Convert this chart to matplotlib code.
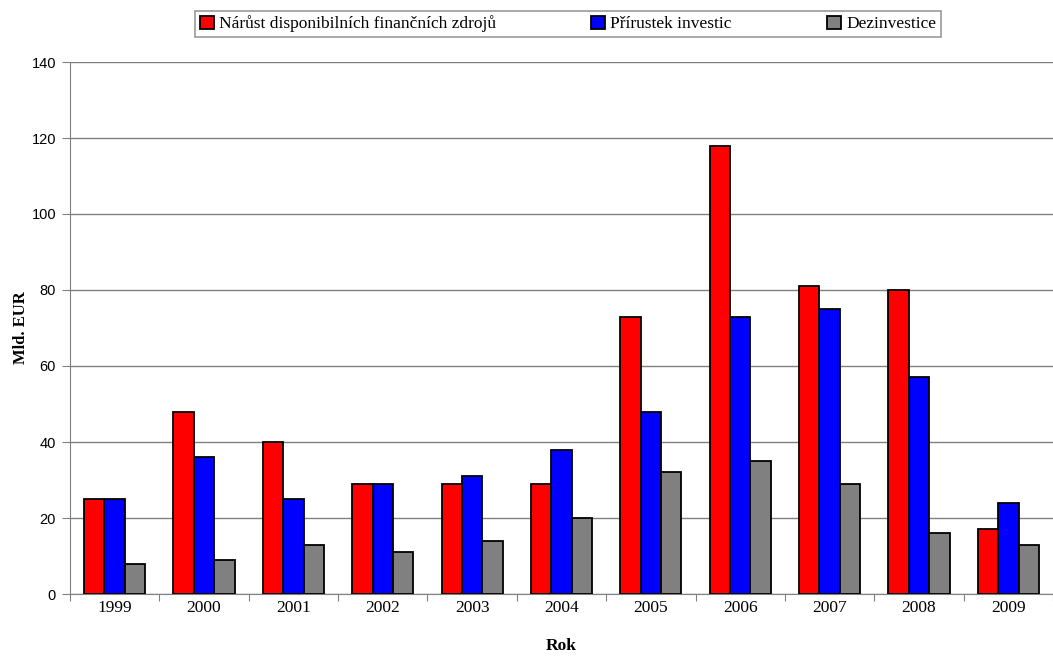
import numpy as np
import matplotlib.pyplot as plt

roky = ['1999', '2000', '2001', '2002', '2003', '2004', '2005', '2006', '2007', '2008', '2009']
narust = [25, 48, 40, 29, 29, 29, 73, 118, 81, 80, 17]
prirustek = [25, 36, 25, 29, 31, 38, 48, 73, 75, 57, 24]
dezinvestice = [8, 9, 13, 11, 14, 20, 32, 35, 29, 16, 13]

serif = ['Liberation Serif', 'DejaVu Serif']
sans = ['Liberation Sans', 'DejaVu Sans']

fig = plt.figure(figsize=(10.53, 6.57), dpi=100)
ax = fig.add_axes([70 / 1053, 1 - 594 / 657, 1 - 70 / 1053, (594 - 62) / 657])

x = np.arange(len(roky))
w = 0.228
ax.bar(x - w, narust, w, color='#ff0000', edgecolor='black', linewidth=1.3, label='Nárůst disponibilních finančních zdrojů', zorder=3)
ax.bar(x, prirustek, w, color='#0000ff', edgecolor='black', linewidth=1.3, label='Přírustek investic', zorder=3)
ax.bar(x + w, dezinvestice, w, color='#808080', edgecolor='black', linewidth=1.3, label='Dezinvestice', zorder=3)

ax.set_xlim(-0.5, len(roky) - 0.5)
ax.set_ylim(0, 140)
ax.set_yticks(range(0, 141, 20))
ax.set_yticklabels([str(v) for v in range(0, 141, 20)], fontfamily=sans, fontsize=10.5)

# ticks at category boundaries, labels centred
ax.set_xticks(np.arange(-0.5, len(roky), 1))
ax.set_xticklabels([])
ax.set_xticks(x, minor=True)
ax.set_xticklabels(roky, minor=True, fontfamily=serif, fontsize=12.5)
ax.tick_params(axis='x', which='minor', length=0, pad=4)
ax.tick_params(axis='x', which='major', length=5, color='#808080', direction='out')
ax.tick_params(axis='y', length=6, color='#808080', direction='out', pad=4)

ax.yaxis.grid(True, color='#808080', linewidth=1)
for s in ['top', 'right']:
    ax.spines[s].set_visible(False)
for s in ['left', 'bottom']:
    ax.spines[s].set_color('#808080')

ax.set_ylabel('Mld. EUR', fontfamily=serif, fontweight='bold', fontsize=12, labelpad=2)
ax.set_xlabel('Rok', fontfamily=serif, fontweight='bold', fontsize=12.5, labelpad=16)

leg = fig.legend(loc='center', bbox_to_anchor=(568 / 1053, 1 - 24 / 657), ncol=3,
                 prop={'family': serif, 'size': 12.5}, frameon=True, fancybox=False,
                 edgecolor='#808080', handlelength=0.8, handleheight=0.8,
                 handletextpad=0.3, columnspacing=5.5, borderpad=0.25)
leg.get_frame().set_linewidth(1.2)

fig.savefig('out.png', dpi=100)
